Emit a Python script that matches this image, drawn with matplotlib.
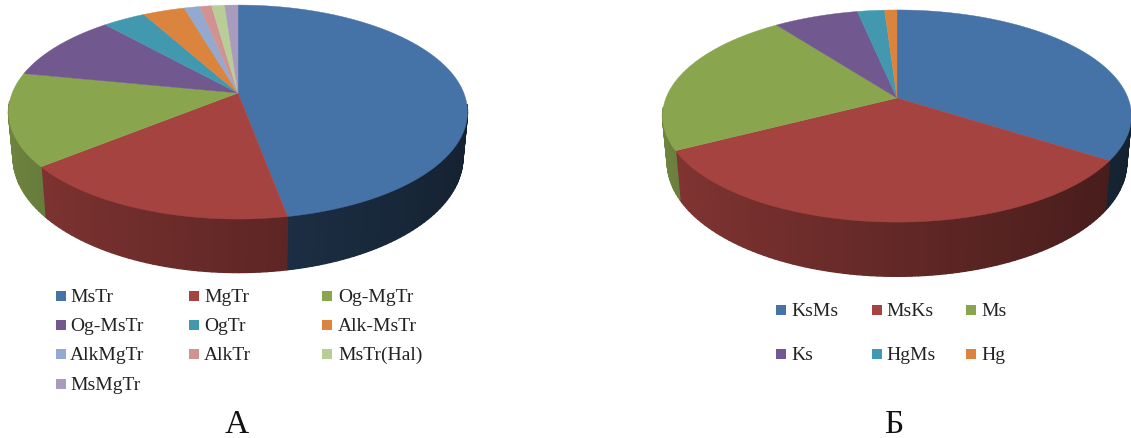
import numpy as np
import matplotlib
matplotlib.use("Agg")
import matplotlib.pyplot as plt
from matplotlib.collections import PolyCollection

plt.rcParams["font.family"] = ["Liberation Serif", "DejaVu Sans"]

colors = ["#4572a7", "#a54340", "#89a54e", "#71588f", "#4198af",
          "#db843d", "#93a9cf", "#d19392", "#b9cd97", "#a99bbd"]

names_a = ["MsTr", "MgTr", "Og-MgTr", "Og-MsTr", "OgTr",
           "Alk-MsTr", "AlkMgTr", "AlkTr", "MsTr(Hal)", "MsMgTr"]
values_a = [47.1, 17.0, 14.0, 10.3, 3.6, 3.5, 1.3, 1.0, 1.1, 1.1]

names_b = ["KsMs", "MsKs", "Ms", "Ks", "HgMs", "Hg"]
values_b = [34.3, 32.9, 22.7, 6.9, 2.2, 1.0]

lw = 0.3


def project(theta, cx, cy, a, b, k):
    # theta clockwise from 12 o'clock, far side of the disc is squeezed
    s, c = np.sin(theta), np.cos(theta)
    w = 1 + k * c
    return cx + a * s / w, cy - b * c / w, w


def pie3d(ax, values, cx, cy, a, b, k, depth):
    edges = np.cumsum([0] + list(values)) / sum(values) * 2 * np.pi

    # side wall first, the top faces cover whatever is behind them
    quads, shades = [], []
    for i, v in enumerate(values):
        n = max(int((edges[i + 1] - edges[i]) * 40), 2)
        th = np.linspace(edges[i], edges[i + 1], n + 1)
        x, y, w = project(th, cx, cy, a, b, k)
        x2 = cx + (x - cx) * 0.98
        y2 = y + depth / w
        for j in range(n):
            if np.cos(th[j]) > -0.1:
                continue
            quads.append([(x[j], y[j]), (x[j + 1], y[j + 1]),
                          (x2[j + 1], y2[j + 1]), (x2[j], y2[j])])
            f = 0.6 - 0.2 * np.sin(th[j])
            if i == 0:
                f *= 0.72  # blue wall is much darker in the original
            rgb = np.array(matplotlib.colors.to_rgb(colors[i])) * f
            shades.append(rgb)
    ax.add_collection(PolyCollection(quads, facecolors=shades, edgecolors=shades,
                                     linewidths=1.0, capstyle="round", joinstyle="round"))

    for i, v in enumerate(values):
        th = np.linspace(edges[i], edges[i + 1], 200)
        x, y, w = project(th, cx, cy, a, b, k)
        ax.fill(np.r_[cx, x], np.r_[cy, y], color=colors[i], lw=lw)


def legend_block(ax, names, xs_box, xs_text, rows):
    for i, name in enumerate(names):
        col, row = i % 3, i // 3
        ax.scatter(xs_box[col], rows[row], marker="s", s=45, color=colors[i], linewidths=0)
        ax.text(xs_text[col], rows[row] + 0.5, name, fontsize=14, color="#222222",
                ha="left", va="center")


fig = plt.figure(figsize=(11.31, 4.39), dpi=100)
ax = fig.add_axes([0, 0, 1, 1])
ax.set_xlim(0, 1131)
ax.set_ylim(439, 0)
ax.axis("off")

pie3d(ax, values_a, 238, 94, 225.8, 103.6, 0.178, 44)
pie3d(ax, values_b, 897, 99, 231, 103, 0.17, 45)

legend_block(ax, names_a, [61, 194, 327], [70, 204, 338], [297, 326, 355, 385])
legend_block(ax, names_b, [781, 877, 971], [791, 886, 981], [311, 355])

ax.text(237, 433, "А", fontsize=24, color="#111111", ha="center", va="baseline")
ax.text(894, 433, "Б", fontsize=24, color="#111111", ha="center", va="baseline")

fig.savefig("out.png", dpi=100)
